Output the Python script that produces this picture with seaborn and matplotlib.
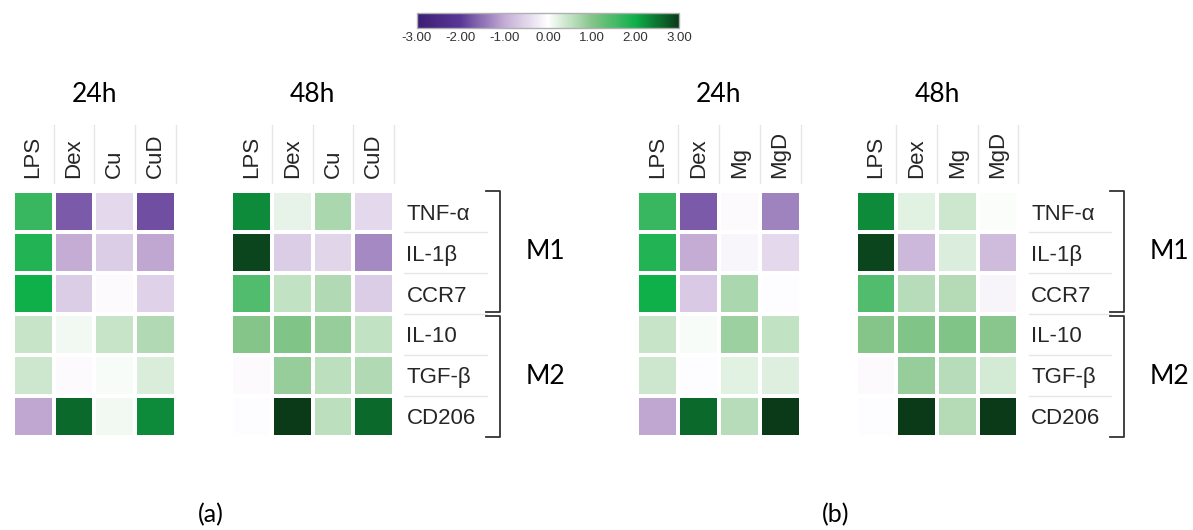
import numpy as np
import pandas as pd
import matplotlib
matplotlib.use("Agg")
import matplotlib.pyplot as plt
import matplotlib.transforms as mtransforms
from matplotlib.colors import LinearSegmentedColormap, Normalize
from matplotlib.cm import ScalarMappable
import seaborn as sns

# ---------------- data ----------------
markers = ["TNF-α", "IL-1β", "CCR7", "IL-10", "TGF-β", "CD206"]
groups = ["M1", "M2"]
times = ["24h", "48h"]
cols_a = ["LPS", "Dex", "Cu", "CuD"]
cols_b = ["LPS", "Dex", "Mg", "MgD"]
panel_labels = ["(a)", "(b)"]
cbar_ticks = [-3, -2, -1, 0, 1, 2, 3]

a_24h = [[1.65, -1.70, -0.45, -1.80],
         [1.85, -1.00, -0.60, -1.05],
         [2.00, -0.60, -0.05, -0.55],
         [0.45, 0.10, 0.45, 0.65],
         [0.40, -0.05, 0.05, 0.32],
         [-1.05, 2.60, 0.10, 2.30]]
a_48h = [[2.30, 0.20, 0.70, -0.45],
         [2.90, -0.60, -0.50, -1.30],
         [1.45, 0.50, 0.65, -0.60],
         [1.00, 1.05, 0.85, 0.50],
         [-0.05, 0.85, 0.55, 0.65],
         [-0.03, 3.00, 0.55, 2.60]]
b_24h = [[1.65, -1.70, -0.07, -1.35],
         [1.85, -1.00, -0.10, -0.45],
         [2.00, -0.65, 0.70, -0.03],
         [0.45, 0.07, 0.80, 0.50],
         [0.40, -0.03, 0.25, 0.27],
         [-1.05, 2.60, 0.60, 3.00]]
b_48h = [[2.30, 0.25, 0.40, 0.03],
         [2.90, -0.85, 0.30, -0.80],
         [1.45, 0.60, 0.62, -0.12],
         [1.00, 1.05, 1.05, 0.98],
         [-0.05, 0.85, 0.60, 0.37],
         [-0.03, 3.00, 0.62, 3.00]]

# ---------------- style ----------------
W, H = 1193, 530
fig = plt.figure(figsize=(W / 100, H / 100), dpi=100)
fig.patch.set_facecolor("white")

cmap = LinearSegmentedColormap.from_list(
    "pg",
    [(0.0, "#3b1e74"), (1 / 6, "#5b3897"), (2 / 6, "#c4acd5"), (0.5, "#ffffff"),
     (4 / 6, "#86c58a"), (5 / 6, "#0fb04a"), (1.0, "#0a3a18")])
norm = Normalize(vmin=-3, vmax=3)

LABEL_FONT = ["Liberation Sans", "DejaVu Sans"]
TITLE_FONT = ["Lato", "DejaVu Sans"]
TXT = "#262626"
SEP = "#e6e6e6"

top_px, bot_px = 191, 437
hm_h = bot_px - top_px


def rect(x0, x1, y0, y1):
    return [x0 / W, 1 - y1 / H, (x1 - x0) / W, (y1 - y0) / H]


def yfrac(y_px):
    return (bot_px - y_px) / hm_h


panels = [
    (cols_a, a_24h, a_48h, 0),
    (cols_b, b_24h, b_48h, 624.5),
]

for p, (cols, d24, d48, off) in enumerate(panels):
    spans = [(12.7 + off, 176.0 + off), (231.0 + off, 394.0 + off)]
    for t, (data, (x0, x1)) in enumerate(zip([d24, d48], spans)):
        ax = fig.add_axes(rect(x0, x1, top_px, bot_px))
        df = pd.DataFrame(data, index=markers, columns=cols)
        sns.heatmap(df, ax=ax, cmap=cmap, vmin=-3, vmax=3, cbar=False,
                    linewidths=1.6, linecolor="white",
                    xticklabels=True, yticklabels=(t == 1))
        ax.xaxis.tick_top()
        ax.tick_params(axis="x", length=0, pad=9, rotation=90)
        for lab in ax.get_xticklabels():
            lab.set_fontfamily(LABEL_FONT)
            lab.set_fontsize(16)
            lab.set_color(TXT)
            lab.set_va("bottom")
        ax.set_xlabel("")
        ax.set_ylabel("")
        wpx = x1 - x0
        # vertical separators between column labels
        tr_x = mtransforms.blended_transform_factory(ax.transData, ax.transAxes)
        for i in range(1, len(cols) + 1):
            ax.plot([i, i], [yfrac(183), yfrac(125)], color=SEP, lw=1.0,
                    transform=tr_x, clip_on=False)
        ax.text(0.5, yfrac(95), times[t], transform=ax.transAxes,
                ha="center", va="center", fontsize=19,
                family=TITLE_FONT, color="black")
        if t == 1:
            ax.yaxis.tick_right()
            ax.tick_params(axis="y", length=0, pad=9, rotation=0)
            for lab in ax.get_yticklabels():
                lab.set_fontfamily(LABEL_FONT)
                lab.set_fontsize(16)
                lab.set_color(TXT)
                lab.set_ha("left")
            tr_y = mtransforms.blended_transform_factory(ax.transAxes, ax.transData)
            # horizontal separators between row labels
            for j in range(1, len(markers)):
                ax.plot([1 + 10 / wpx, 1 + 93 / wpx], [j, j], color=SEP, lw=1.0,
                        transform=tr_y, clip_on=False)
            # brackets for M1 / M2
            bx = 1 + 106 / wpx
            bl = 1 + 92 / wpx
            n1 = 3
            for (ya, yb), g in zip([(0.0, n1 - 0.05), (n1 + 0.05, len(markers))], groups):
                ax.plot([bl, bx, bx, bl], [ya, ya, yb, yb], color="#333333",
                        lw=1.3, transform=tr_y, clip_on=False,
                        solid_joinstyle="round")
                ax.text(1 + 151 / wpx, (ya + yb) / 2, g, transform=tr_y,
                        ha="center", va="center", fontsize=19,
                        family=TITLE_FONT, color="black")
    fig.text((211 + off) / W, 1 - 515 / H, panel_labels[p], ha="center",
             va="center", fontsize=18, family=TITLE_FONT, color="black")

# ---------------- colorbar ----------------
cax = fig.add_axes(rect(417, 679, 13.3, 27.7))
sm = ScalarMappable(norm=norm, cmap=cmap)
cb = fig.colorbar(sm, cax=cax, orientation="horizontal", ticks=cbar_ticks)
cb.ax.set_xticklabels([f"{v:.2f}" for v in cbar_ticks])
cb.ax.tick_params(length=0, pad=3, labelsize=9.5, labelcolor="#333333")
for lab in cb.ax.get_xticklabels():
    lab.set_fontfamily(LABEL_FONT)
cb.outline.set_edgecolor("#b0b0b0")
cb.outline.set_linewidth(1.0)

fig.savefig("out.png", dpi=100, facecolor="white")
